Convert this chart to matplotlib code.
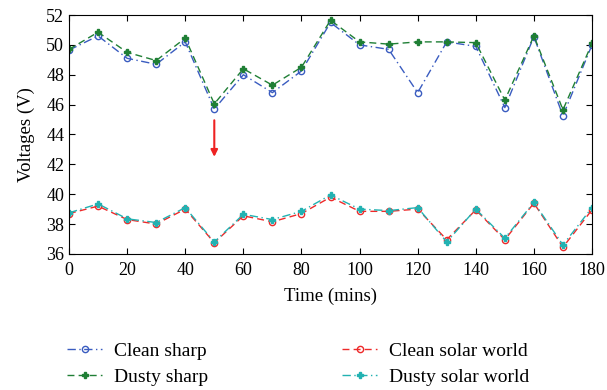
import matplotlib
matplotlib.use("Agg")
import matplotlib.pyplot as plt

time_mins = [0, 10, 20, 30, 40, 50, 60, 70, 80, 90, 100, 110, 120, 130, 140, 150, 160, 170, 180]
clean_sharp = [49.65, 50.6, 49.1, 48.7, 50.2, 45.7, 48.0, 46.8, 48.25, 51.5, 50.0, 49.7, 46.8, 50.2, 49.9, 45.8, 50.55, 45.25, 50.0]
dusty_sharp = [49.7, 50.85, 49.5, 48.95, 50.45, 46.05, 48.4, 47.3, 48.5, 51.65, 50.2, 50.05, 50.2, 50.2, 50.15, 46.3, 50.6, 45.65, 50.1]
clean_solar = [38.7, 39.2, 38.3, 38.0, 39.0, 36.75, 38.55, 38.15, 38.7, 39.8, 38.85, 38.85, 39.0, 36.95, 38.95, 36.95, 39.4, 36.45, 38.95]
dusty_solar = [38.75, 39.35, 38.35, 38.1, 39.1, 36.8, 38.65, 38.3, 38.85, 39.95, 39.0, 38.9, 39.1, 36.8, 39.0, 37.05, 39.45, 36.6, 39.1]

labels = ["Clean sharp", "Dusty sharp", "Clean solar world", "Dusty solar world"]
x_ticks = list(range(0, 181, 20))
y_ticks = list(range(36, 53, 2))

plt.rcParams['font.family'] = ['Liberation Serif', 'DejaVu Serif']

fig = plt.figure(figsize=(6.07, 3.90), dpi=100)
ax = fig.add_axes([0.1137, 0.349, 0.8616, 0.6125])

l1, = ax.plot(time_mins, clean_sharp, linestyle=(0, (6, 2.5, 1, 2.5)), color='#3a5cc0', marker='o',
              mfc='none', mec='#3a5cc0', ms=4.5, lw=1, label=labels[0])
l2, = ax.plot(time_mins, dusty_sharp, linestyle=(0, (5, 3)), color='#1f7f35', marker='P',
              ms=4, lw=1, label=labels[1])
l3, = ax.plot(time_mins, clean_solar, linestyle=(0, (5, 3)), color='#ee2a2a', marker='o',
              mfc='none', mec='#ee2a2a', ms=4.5, lw=1, label=labels[2])
l4, = ax.plot(time_mins, dusty_solar, linestyle=(0, (6, 2.5, 1, 2.5)), color='#22b2b2', marker='P',
              ms=4, lw=1, label=labels[3])

ax.annotate('', xy=(50, 42.5), xytext=(50, 44.95),
            arrowprops=dict(arrowstyle='-|>', color='#ee2222', lw=1.5,
                            mutation_scale=10, shrinkA=0, shrinkB=0))

ax.set_xlim(0, 180)
ax.set_ylim(36, 52)
ax.set_xticks(x_ticks)
ax.set_yticks(y_ticks)
ax.tick_params(direction='in', top=True, right=True, labelsize=13, length=4)
ax.tick_params(axis='x', pad=6)
ax.set_xlabel('Time (mins)', fontsize=13.5, labelpad=6)
ax.set_ylabel('Voltages (V)', fontsize=13.5, labelpad=8)

fig.legend(handles=[l1, l2, l3, l4], labels=labels,
           ncol=2, loc='lower left', bbox_to_anchor=(0.082, -0.035), frameon=False,
           fontsize=14, handlelength=1.8, columnspacing=6.9, labelspacing=0.45,
           handletextpad=0.6)

fig.savefig('out.png', dpi=100)
